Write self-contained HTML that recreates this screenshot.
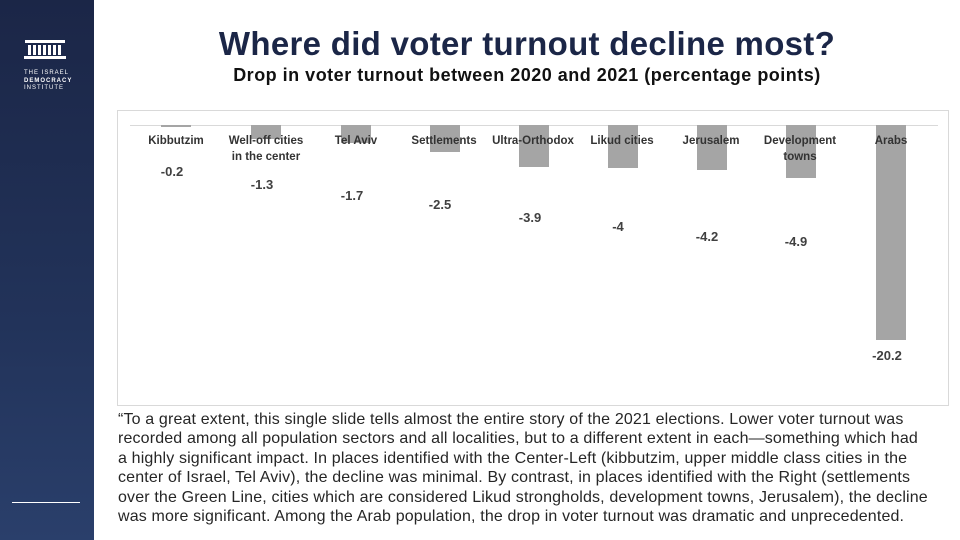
<!DOCTYPE html>
<html><head><meta charset="utf-8"><style>
body{margin:0;width:960px;height:540px;overflow:hidden;background:#fff;font-family:"Liberation Sans",Arial,sans-serif;position:relative}
#side{position:absolute;left:0;top:0;width:94px;height:540px;background:linear-gradient(#1b2647,#22335a 60%,#2a3f6b)}
.t{position:absolute;white-space:nowrap}
#chart{position:absolute;left:117px;top:110px;width:832px;height:296px;border:1px solid #d9d9d9;box-sizing:border-box}
.bar{position:absolute;background:#a5a5a5;width:30px}
.lab{position:absolute;font-size:11.5px;font-weight:bold;color:#333;text-align:center;width:100px;line-height:16px}
.val{position:absolute;font-size:13px;font-weight:bold;color:#404040;text-align:center;width:60px}
#para{position:absolute;left:118px;top:410px;font-size:16px;line-height:19.4px;color:#262626;white-space:nowrap;letter-spacing:0.15px}
</style></head><body>
<div id="side">
<svg style="position:absolute;left:22px;top:40px" width="50" height="20"><rect x="3" y="0" width="40" height="3" fill="#fff"/><g fill="#fff"><rect x="6" y="5" width="3" height="10"/><rect x="11" y="5" width="3" height="10"/><rect x="16" y="5" width="3" height="10"/><rect x="21" y="5" width="3" height="10"/><rect x="26" y="5" width="3" height="10"/><rect x="31" y="5" width="3" height="10"/><rect x="36" y="5" width="3" height="10"/></g><rect x="2" y="16" width="42" height="3" fill="#fff"/></svg>
<div class="t" style="left:24px;top:70px;font-size:6px;color:#fff;letter-spacing:1px;line-height:7.5px;text-align:left">THE ISRAEL<br><b>DEMOCRACY</b><br>INSTITUTE</div>
<div style="position:absolute;left:12px;top:502px;width:68px;height:1px;background:#fff"></div>
</div>
<div class="t" style="left:94px;width:866px;text-align:center;top:25px;font-size:33px;font-weight:bold;color:#1b2647;letter-spacing:0.3px">Where did voter turnout decline most?</div>
<div class="t" style="left:94px;width:866px;text-align:center;top:65px;font-size:18px;font-weight:bold;color:#111;letter-spacing:0.5px">Drop in voter turnout between 2020 and 2021 (percentage points)</div>
<div id="chart"></div>
<div style="position:absolute;left:130px;top:125px;width:808px;height:1px;background:#d9d9d9"></div>
<div class="bar" style="left:161px;top:125px;height:2px"></div>
<div class="bar" style="left:251px;top:125px;height:14px"></div>
<div class="bar" style="left:341px;top:125px;height:18px"></div>
<div class="bar" style="left:430px;top:125px;height:27px"></div>
<div class="bar" style="left:519px;top:125px;height:42px"></div>
<div class="bar" style="left:608px;top:125px;height:43px"></div>
<div class="bar" style="left:697px;top:125px;height:45px"></div>
<div class="bar" style="left:786px;top:125px;height:53px"></div>
<div class="bar" style="left:876px;top:125px;height:215px"></div>
<div class="lab" style="left:126px;top:133px">Kibbutzim</div>
<div class="lab" style="left:216px;top:133px">Well-off cities<br>in the center</div>
<div class="lab" style="left:306px;top:133px">Tel Aviv</div>
<div class="lab" style="left:394px;top:133px">Settlements</div>
<div class="lab" style="left:483px;top:133px">Ultra-Orthodox</div>
<div class="lab" style="left:572px;top:133px">Likud cities</div>
<div class="lab" style="left:661px;top:133px">Jerusalem</div>
<div class="lab" style="left:750px;top:133px">Development<br>towns</div>
<div class="lab" style="left:841px;top:133px">Arabs</div>
<div class="val" style="left:142px;top:164px">-0.2</div>
<div class="val" style="left:232px;top:177px">-1.3</div>
<div class="val" style="left:322px;top:188px">-1.7</div>
<div class="val" style="left:410px;top:197px">-2.5</div>
<div class="val" style="left:500px;top:210px">-3.9</div>
<div class="val" style="left:588px;top:219px">-4</div>
<div class="val" style="left:677px;top:229px">-4.2</div>
<div class="val" style="left:766px;top:234px">-4.9</div>
<div class="val" style="left:857px;top:348px">-20.2</div>
<div id="para">“To a great extent, this single slide tells almost the entire story of the 2021 elections. Lower voter turnout was<br>recorded among all population sectors and all localities, but to a different extent in each—something which had<br>a highly significant impact. In places identified with the Center-Left (kibbutzim, upper middle class cities in the<br>center of Israel, Tel Aviv), the decline was minimal. By contrast, in places identified with the Right (settlements<br>over the Green Line, cities which are considered Likud strongholds, development towns, Jerusalem), the decline<br>was more significant. Among the Arab population, the drop in voter turnout was dramatic and unprecedented.</div>
</body></html>
